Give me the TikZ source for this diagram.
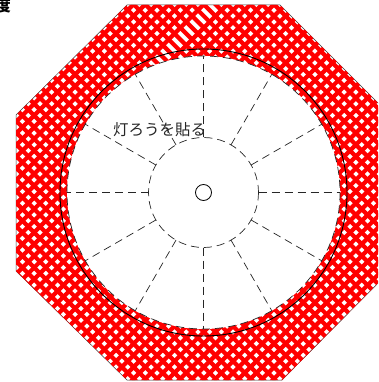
\documentclass[tikz,border=0pt]{standalone}
\usepackage{fontspec}
\newfontfamily\cjk{Noto Sans CJK JP}
\usepackage{tikz}
\usetikzlibrary{calc}
\tikzset{
  hatchline/.style={red, line width=4.2pt},
  rimline/.style={black!80, line width=0.5pt},
  guide/.style={black!85, line width=0.7pt, dash pattern=on 8pt off 5pt},
  solidring/.style={draw=black, line width=0.9pt},
  labeltext/.style={font=\cjk\fontsize{15.5}{15.5}\selectfont, inner sep=0pt, text=black!85},
}
\begin{document}
\begin{tikzpicture}[x=1pt, y=-1pt]
  \useasboundingbox (0,0) rectangle (378,382);
  \clip (0,0) rectangle (378,382);
  \coordinate (hub) at (203.5,192.5);

  \draw[rimline] (127,5) -- (280,5) -- (391,116) -- (391,270) -- (282,380) -- (127,380) -- (16,271) -- (16,115) -- cycle;
  % red band
  \begin{scope}
    \clip (127,5) -- (280,5) -- (391,116) -- (391,270) -- (282,380) -- (127,380) -- (16,271) -- (16,115) -- cycle;
    \foreach \k in {0,...,75} {
      \pgfmathsetmacro\posc{219.85+11.7*(\k-20)}
      \ifnum\k=20
        \draw[hatchline] (\posc-66,66) -- (\posc-400,400);
      \else
        \draw[hatchline] (\posc,0) -- (\posc-400,400);
      \fi
      \pgfmathsetmacro\posd{-139.85+11.7*(\k-30)}
      \draw[hatchline] (\posd,0) -- (\posd+400,400);
    }
  \end{scope}

  \draw[solidring] (hub) circle (143.5);
  \fill[white] (hub) circle (136.5);
  \draw[guide] (hub) circle (136.5);
  \draw[guide] (hub) circle (55);
  \foreach \ang in {0,30,...,330}
    \draw[guide] ($(hub)+(\ang:55)$) -- ($(hub)+(\ang:136.5)$);
  \draw[black, line width=0.8pt] (hub) circle (8);

  \node[labeltext, anchor=center] (tourou) at (159.5,130) {灯ろうを貼る};
  \node[font=\cjk\bfseries\fontsize{15.5}{15.5}\selectfont, inner sep=0pt, anchor=south east] (corner) at (11,13) {度};
\end{tikzpicture}
\end{document}
